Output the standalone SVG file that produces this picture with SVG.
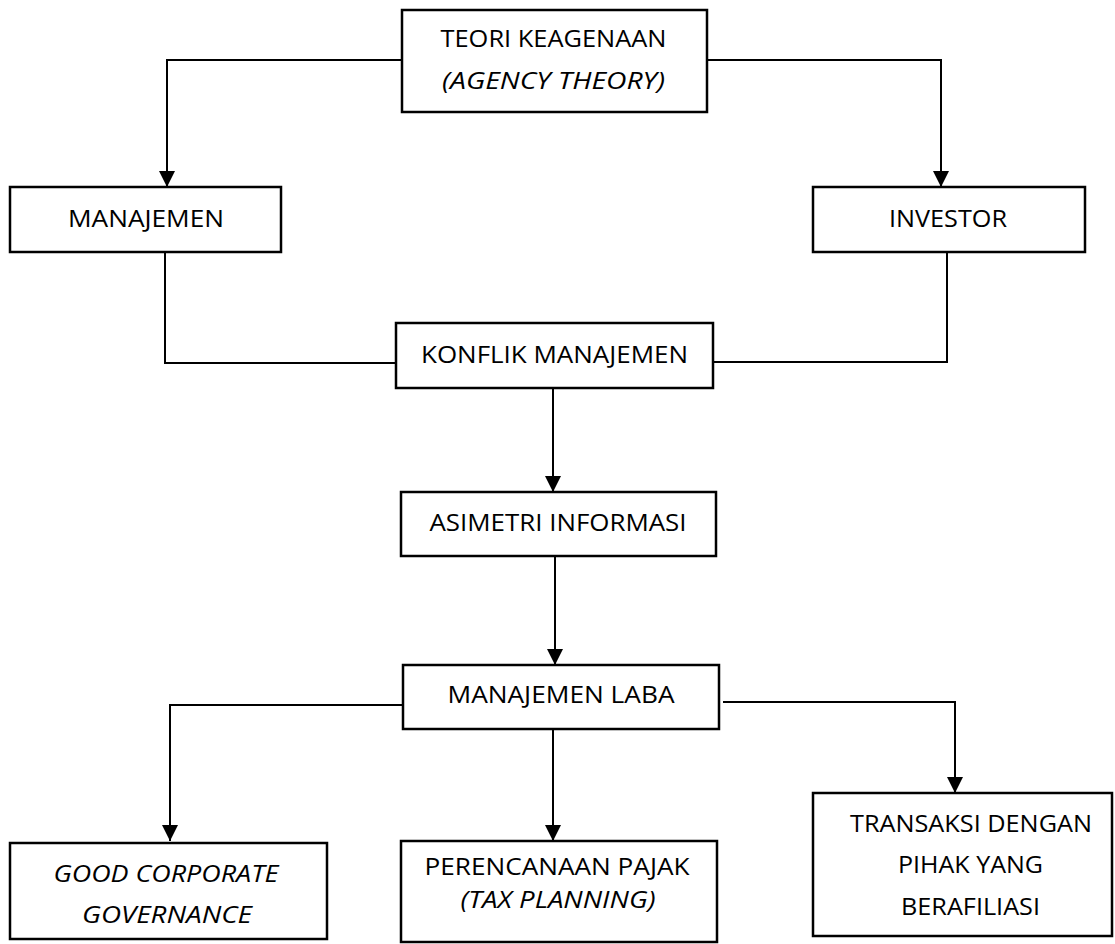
<svg xmlns="http://www.w3.org/2000/svg" width="1115" height="944" viewBox="0 0 1115 944">
<style>
.box{fill:#fff;stroke:#000;stroke-width:2.5}
.t{font-family:"Open Sans","Liberation Sans",sans-serif;font-size:24px;fill:#000;text-anchor:middle}
.i{font-style:italic}
.c{fill:none;stroke:#000;stroke-width:2}
</style>
<defs>
<marker id="ah" markerUnits="userSpaceOnUse" markerWidth="16" markerHeight="16" refX="14" refY="7" orient="auto" viewBox="0 0 14 14">
<path d="M0,0 L14,7 L0,14 z" fill="#000"/>
</marker>
</defs>
<g id="connectors">
<polyline class="c" points="401,60 167,60 167,187" marker-end="url(#ah)"/>
<polyline class="c" points="707,60 941,60 941,187" marker-end="url(#ah)"/>
<polyline class="c" points="165,252 165,363 396,363"/>
<polyline class="c" points="947,253 947,362 713,362"/>
<line class="c" x1="553" y1="388" x2="553" y2="492" marker-end="url(#ah)"/>
<line class="c" x1="555" y1="556" x2="555" y2="665" marker-end="url(#ah)"/>
<polyline class="c" points="403,705 170,705 170,841" marker-end="url(#ah)"/>
<line class="c" x1="553" y1="729" x2="553" y2="841" marker-end="url(#ah)"/>
<polyline class="c" points="723,702 955,702 955,793" marker-end="url(#ah)"/>
</g>
<g id="teori">
<rect class="box" x="402" y="10" width="305" height="102"/>
<text class="t" x="553.5" y="47" textLength="226" lengthAdjust="spacingAndGlyphs">TEORI KEAGENAAN</text>
<text class="t i" x="553.5" y="88.5" textLength="223" lengthAdjust="spacingAndGlyphs">(AGENCY THEORY)</text>
</g>
<g id="manajemen">
<rect class="box" x="10" y="187" width="271" height="65"/>
<text class="t" x="146" y="227" textLength="156" lengthAdjust="spacingAndGlyphs">MANAJEMEN</text>
</g>
<g id="investor">
<rect class="box" x="813" y="187" width="272" height="65"/>
<text class="t" x="948" y="227" textLength="118" lengthAdjust="spacingAndGlyphs">INVESTOR</text>
</g>
<g id="konflik">
<rect class="box" x="396" y="323" width="317" height="65"/>
<text class="t" x="554.5" y="363" textLength="267" lengthAdjust="spacingAndGlyphs">KONFLIK MANAJEMEN</text>
</g>
<g id="asimetri">
<rect class="box" x="401" y="492" width="315" height="64"/>
<text class="t" x="558" y="531" textLength="257" lengthAdjust="spacingAndGlyphs">ASIMETRI INFORMASI</text>
</g>
<g id="laba">
<rect class="box" x="403" y="665" width="316" height="64"/>
<text class="t" x="561" y="703" textLength="227" lengthAdjust="spacingAndGlyphs">MANAJEMEN LABA</text>
</g>
<g id="gcg">
<rect class="box" x="10" y="843" width="317" height="96"/>
<text class="t i" x="166" y="882" textLength="225" lengthAdjust="spacingAndGlyphs">GOOD CORPORATE</text>
<text class="t i" x="167" y="923" textLength="170" lengthAdjust="spacingAndGlyphs">GOVERNANCE</text>
</g>
<g id="pajak">
<rect class="box" x="401" y="841" width="316" height="101"/>
<text class="t" x="557" y="875" textLength="265" lengthAdjust="spacingAndGlyphs">PERENCANAAN PAJAK</text>
<text class="t i" x="558" y="908" textLength="195" lengthAdjust="spacingAndGlyphs">(TAX PLANNING)</text>
</g>
<g id="transaksi">
<rect class="box" x="813" y="793" width="299" height="143"/>
<text class="t" x="971" y="832" textLength="242" lengthAdjust="spacingAndGlyphs">TRANSAKSI DENGAN</text>
<text class="t" x="970.5" y="873" textLength="145" lengthAdjust="spacingAndGlyphs">PIHAK YANG</text>
<text class="t" x="970.5" y="915" textLength="139" lengthAdjust="spacingAndGlyphs">BERAFILIASI</text>
</g>
</svg>
